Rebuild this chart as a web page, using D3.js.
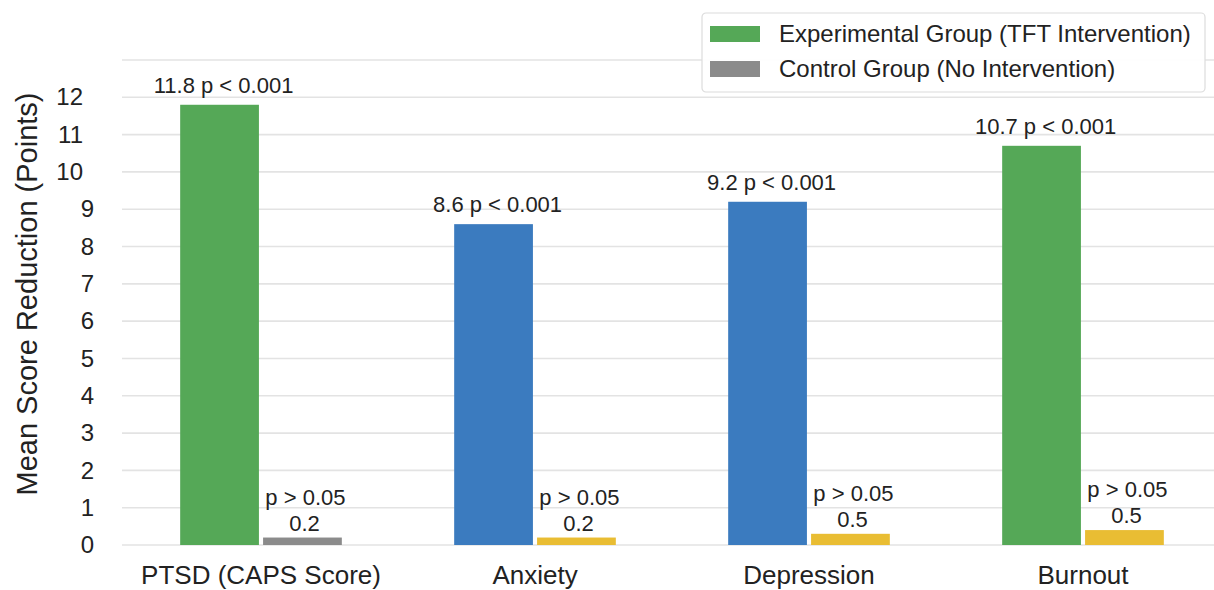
<!DOCTYPE html>
<html>
<head>
<meta charset="utf-8">
<script src="https://cdn.jsdelivr.net/npm/d3@7"></script>
<style>
  html, body { margin: 0; padding: 0; background: #fff; }
  svg { display: block; font-family: "Liberation Sans", Arial, Helvetica, sans-serif; }
</style>
</head>
<body>
<svg id="chart" width="1214" height="590"></svg>
<script>
// ---- data ----
const categories = ["PTSD (CAPS Score)", "Anxiety", "Depression", "Burnout"];
const experimentalValues = [11.8, 8.6, 9.2, 10.7];
const experimentalLabels = ["11.8 p < 0.001", "8.6 p < 0.001", "9.2 p < 0.001", "10.7 p < 0.001"];
const controlValues = [0.2, 0.2, 0.3, 0.4];
const controlLabels = ["0.2", "0.2", "0.5", "0.5"];
const controlPLabels = ["p > 0.05", "p > 0.05", "p > 0.05", "p > 0.05"];
const experimentalColors = ["#55a857", "#3b7bbf", "#3b7bbf", "#55a857"];
const controlColors = ["#8b8b8b", "#e9bd33", "#e9bd33", "#e9bd33"];
const yTicks = [0,1,2,3,4,5,6,7,8,9,10,11,12];
const gridTicks = [0,1,2,3,4,5,6,7,8,9,10,11,12,13];
const legendItems = [
  { label: "Experimental Group (TFT Intervention)", color: "#55a857" },
  { label: "Control Group (No Intervention)", color: "#8b8b8b" }
];

// ---- layout ----
const svg = d3.select("#chart");
const textColor = "#222";

const y = d3.scaleLinear().domain([0, 13]).range([545, 60]);
const x = d3.scaleBand().domain(categories).range([124, 1220]).paddingInner(0.41).paddingOuter(0.205);
const sub = d3.scaleBand().domain(["exp", "ctl"]).range([0, x.bandwidth()]).paddingInner(0.05);

// gridlines
svg.append("g").selectAll("line").data(gridTicks).join("line")
  .attr("x1", 122).attr("x2", 1214)
  .attr("y1", d => y(d)).attr("y2", d => y(d))
  .attr("stroke", "#e3e3e3").attr("stroke-width", 1.6);

// y axis (labels only)
const yAxis = d3.axisLeft(y).tickValues(yTicks).tickSize(0).tickPadding(0).tickFormat(d3.format("d"));
const gy = svg.append("g").attr("transform", "translate(94,0)").call(yAxis);
gy.select(".domain").remove();
gy.selectAll("text")
  .attr("font-size", 24)
  .attr("fill", textColor)
  .attr("font-family", "Liberation Sans, Arial, sans-serif")
  .attr("dx", d => d >= 10 ? -11 : 0);

// y title
svg.append("text")
  .attr("transform", "translate(37,294) rotate(-90)")
  .attr("text-anchor", "middle")
  .attr("font-size", 29)
  .attr("fill", textColor)
  .text("Mean Score Reduction (Points)");

// x axis labels
const xAxis = d3.axisBottom(x).tickSize(0).tickPadding(0);
const gx = svg.append("g").attr("transform", "translate(0,566)").call(xAxis);
gx.select(".domain").remove();
gx.selectAll("text")
  .attr("font-size", 26)
  .attr("fill", textColor)
  .attr("font-family", "Liberation Sans, Arial, sans-serif")
  .attr("dy", "0.71em");

// bars
const groups = svg.append("g").selectAll("g").data(categories).join("g")
  .attr("transform", d => `translate(${x(d)},0)`);

groups.append("rect")
  .attr("x", sub("exp"))
  .attr("width", sub.bandwidth())
  .attr("y", (d, i) => y(experimentalValues[i]))
  .attr("height", (d, i) => y(0) - y(experimentalValues[i]))
  .attr("fill", (d, i) => experimentalColors[i]);

groups.append("rect")
  .attr("x", sub("ctl"))
  .attr("width", sub.bandwidth())
  .attr("y", (d, i) => y(controlValues[i]))
  .attr("height", (d, i) => y(0) - y(controlValues[i]))
  .attr("fill", (d, i) => controlColors[i]);

// labels
groups.append("text")
  .attr("x", sub("exp") + sub.bandwidth() / 2 + 4)
  .attr("y", (d, i) => y(experimentalValues[i]) - 12)
  .attr("text-anchor", "middle")
  .attr("font-size", 22)
  .attr("fill", textColor)
  .text((d, i) => experimentalLabels[i]);

groups.append("text")
  .attr("x", sub("ctl") + sub.bandwidth() / 2 + 3)
  .attr("y", (d, i) => y(controlValues[i]) - 33)
  .attr("text-anchor", "middle")
  .attr("font-size", 22)
  .attr("fill", textColor)
  .text((d, i) => controlPLabels[i]);

groups.append("text")
  .attr("x", sub("ctl") + sub.bandwidth() / 2 + 2)
  .attr("y", (d, i) => y(controlValues[i]) - 7)
  .attr("text-anchor", "middle")
  .attr("font-size", 22)
  .attr("fill", textColor)
  .text((d, i) => controlLabels[i]);

// legend
const lg = svg.append("g").attr("transform", "translate(702,13)");
lg.append("rect")
  .attr("width", 503).attr("height", 79)
  .attr("rx", 4).attr("ry", 4)
  .attr("fill", "#fff").attr("fill-opacity", 0.95)
  .attr("stroke", "#dcdcdc").attr("stroke-width", 1.2);
const li = lg.selectAll("g.item").data(legendItems).join("g")
  .attr("class", "item")
  .attr("transform", (d, i) => `translate(0,${13 + i * 35})`);
li.append("rect")
  .attr("x", 8).attr("y", 0).attr("width", 50).attr("height", 16)
  .attr("fill", d => d.color);
li.append("text")
  .attr("x", 77).attr("y", 16)
  .attr("font-size", 24)
  .attr("fill", textColor)
  .text(d => d.label);
</script>
</body>
</html>
